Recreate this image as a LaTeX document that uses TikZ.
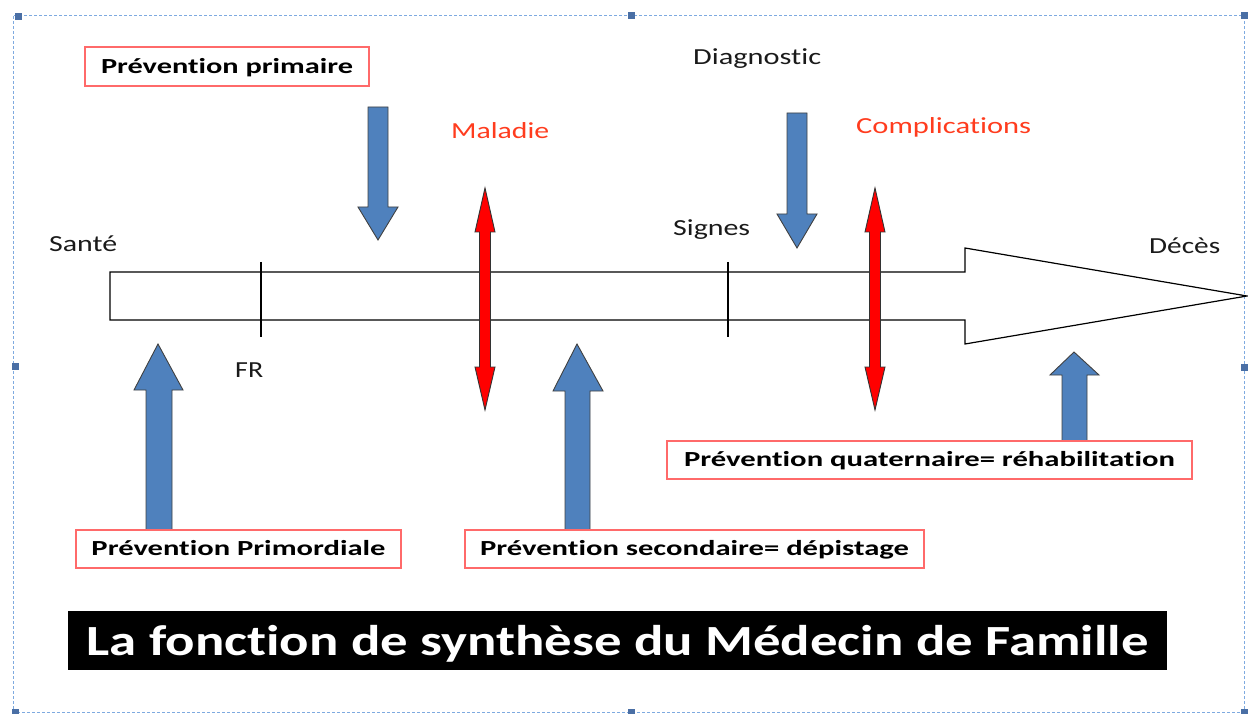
\documentclass[tikz,border=0pt]{standalone}
\usepackage{fontspec}
\setmainfont{Carlito}[Ligatures=NoCommon]
\usepackage{graphicx}
\definecolor{obl}{HTML}{4F81BD}
\definecolor{ored}{HTML}{FF0000}
\definecolor{txtred}{HTML}{FF3C1E}
\definecolor{boxred}{HTML}{FF6A6A}
\definecolor{dashbl}{HTML}{7EAAE0}
\definecolor{hdl}{HTML}{4A6FA5}
\definecolor{txtgr}{HTML}{1A1A1A}
\newcommand\fitw[2]{\resizebox{#1pt}{\height}{#2}}
\tikzset{
  lbl/.style={inner sep=0pt, anchor=base west, text=txtgr, font=\fontsize{23}{27}\selectfont},
  rlbl/.style={lbl, text=txtred},
  pbox/.style={draw=boxred, line width=1.6pt, fill=white, inner sep=0pt, anchor=base,
     font=\bfseries\fontsize{21.5}{26}\selectfont, text=black},
  blarrow/.style={fill=obl, draw=black!75, line width=0.9pt, line join=miter},
  rdarrow/.style={fill=ored, draw=black!80, line width=0.9pt, line join=miter},
  hdlsq/.style={fill=hdl, draw=none},
  tick/.style={draw=black, line width=1.2pt}
}
\begin{document}
\begin{tikzpicture}[x=1pt,y=-1pt]
\useasboundingbox (0,0) rectangle (1248,714);
% selection frame
\draw[dashbl, line width=1pt, dash pattern=on 3pt off 2pt] (13,16) rectangle (1244,712);
\foreach \hx/\hy in {18/17,631/16,1244/16,15/366,1244/367,15/712,631/712,1244/712}
  \fill[hdlsq] (\hx-3.5,\hy-3.5) rectangle (\hx+3.5,\hy+3.5);
% main timeline arrow
\draw[fill=white, draw=black, line width=1.2pt, line join=miter]
  (110,272) -- (965,272) -- (965,248) -- (1247,296) -- (965,344) -- (965,320) -- (110,320) -- cycle;
% ticks
\draw[tick] (261,262) -- (261,337);
\draw[tick] (728,262) -- (728,337);
% red double arrows
\foreach \cx in {485,875}
  \draw[rdarrow] (\cx,188) -- (\cx+10,232) -- (\cx+5.5,232) -- (\cx+5.5,367) -- (\cx+10,367)
     -- (\cx,410) -- (\cx-10,367) -- (\cx-5.5,367) -- (\cx-5.5,232) -- (\cx-10,232) -- cycle;
% blue down arrows
\draw[blarrow] (368,107) -- (388,107) -- (388,207) -- (398,207) -- (378,240) -- (358,207) -- (368,207) -- cycle;
\draw[blarrow] (787,113) -- (807,113) -- (807,214) -- (817,214) -- (797,248) -- (777,214) -- (787,214) -- cycle;
% blue up arrows
\draw[blarrow] (146,530) -- (146,390) -- (134,390) -- (158,344) -- (183,390) -- (172,390) -- (172,530) -- cycle;
\draw[blarrow] (565,530) -- (565,391) -- (553,391) -- (577,344) -- (603,391) -- (590,391) -- (590,530) -- cycle;
\draw[blarrow] (1062,441) -- (1062,375) -- (1050,375) -- (1074,352) -- (1099,375) -- (1087,375) -- (1087,441) -- cycle;
% labels
\node[lbl] (sante) at (49,252) {\fitw{68}{Santé}};
\node[lbl] (fr) at (235,377) {\fitw{28}{FR}};
\node[lbl] (signes) at (673,236) {\fitw{77}{Signes}};
\node[lbl] (diag) at (693,65) {\fitw{128}{Diagnostic}};
\node[lbl] (deces) at (1149,254) {\fitw{71}{Décès}};
\node[rlbl] (maladie) at (451,139) {\fitw{98}{Maladie}};
\node[rlbl] (compl) at (856,134) {\fitw{175}{Complications}};
% boxes
\node[pbox, minimum width=284pt, text height=27pt, text depth=12pt] (prim) at (227,74) {\fitw{252}{Prévention primaire}};
\node[pbox, minimum width=325pt, text height=25pt, text depth=13pt] (primord) at (238.5,555) {\fitw{294}{Prévention Primordiale}};
\node[pbox, minimum width=459pt, text height=25pt, text depth=13pt] (second) at (694.5,555) {\fitw{429}{Prévention secondaire= dépistage}};
\node[pbox, minimum width=525pt, text height=25pt, text depth=13pt] (quat) at (929.5,466) {\fitw{491}{Prévention quaternaire= réhabilitation}};
% title
\node[fill=black, text=white, inner sep=0pt, anchor=base, minimum width=1099pt,
  text height=44pt, text depth=15pt, font=\bfseries\fontsize{43}{50}\selectfont] (title) at (617.5,655)
  {\fitw{1062}{La fonction de synthèse du Médecin de Famille}};
\end{tikzpicture}
\end{document}
